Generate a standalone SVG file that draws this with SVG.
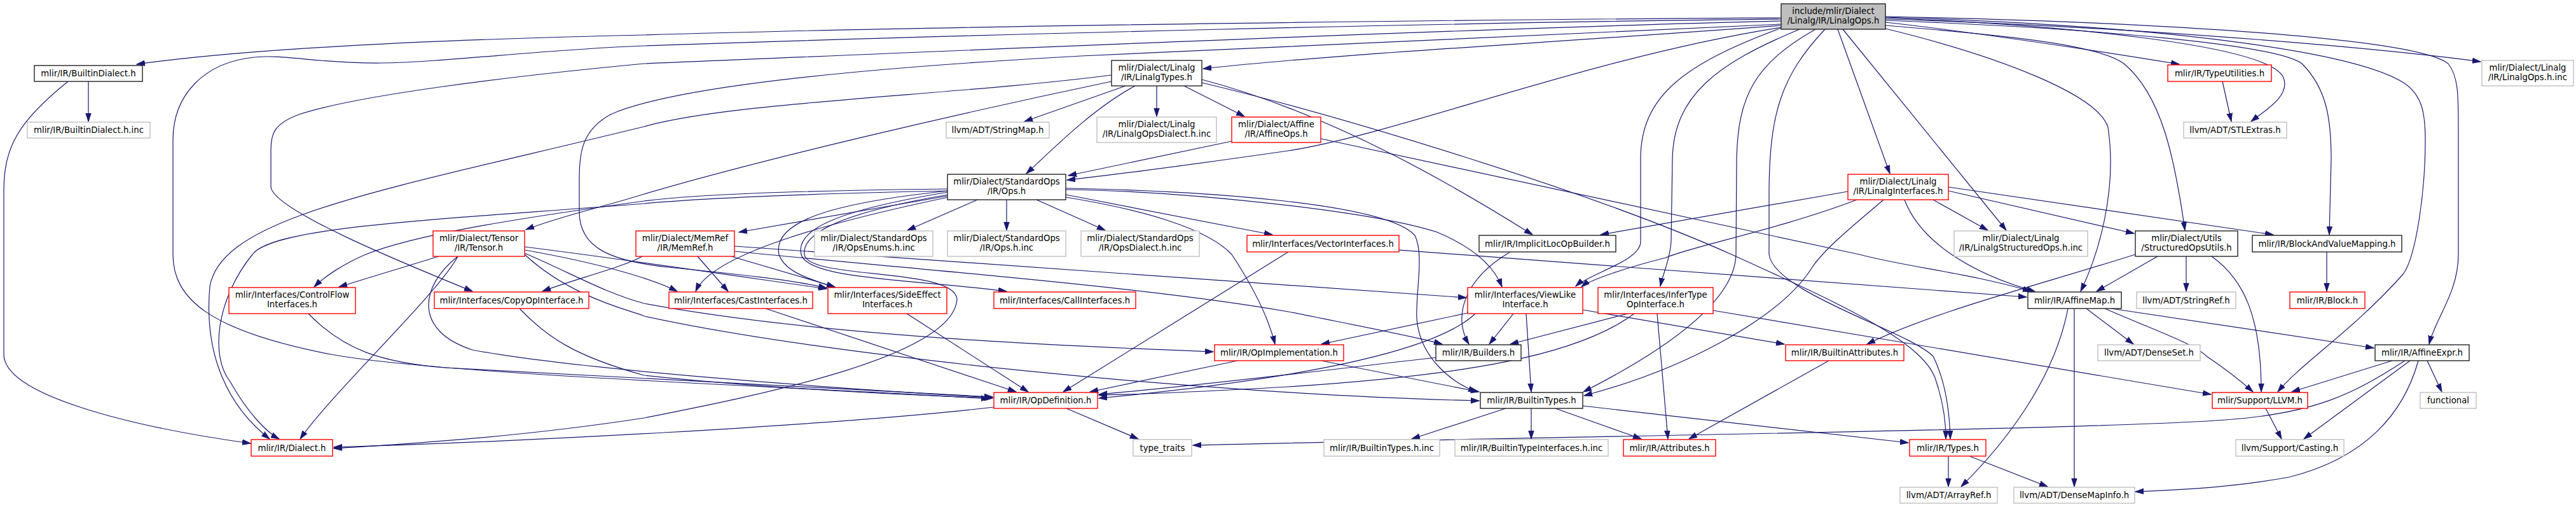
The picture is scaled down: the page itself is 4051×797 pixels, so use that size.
<svg xmlns="http://www.w3.org/2000/svg" width="4051" height="797" viewBox="0 0 4051 797">
<defs>
<marker id="a" markerUnits="userSpaceOnUse" markerWidth="14" markerHeight="10" refX="13" refY="5" orient="auto">
<path d="M0,0.8 L13,5 L0,9.2 z" fill="#191970" stroke="#191970" stroke-width="1"/>
</marker>
<style>
.n rect{fill:#fff;stroke-width:1.4}
.k rect{stroke:#222}
.r rect{stroke:#f00}
.g rect{stroke:#bfbfbf}
text{font-family:"DejaVu Sans","Liberation Sans",sans-serif;font-size:13.3px;text-anchor:middle;fill:#000}
.e path{fill:none;stroke:#191970;stroke-width:1.2;marker-end:url(#a)}
</style>
</defs>
<rect width="4051" height="797" fill="#fff"/>
<g id="edges" class="e">
<path d="M2801,28 C2400,30 1500,40 1013,55 C700,62 400,75 215,101"/>
<path d="M2801,30 C2300,35 1500,55 1013,72 C850,78 700,98 600,99 C500,100 450,85 400,90 C320,98 272,150 272,220 L272,400 C272,470 330,520 520,557 C700,590 1300,610 1556,627"/>
<path d="M2801,33 C2300,45 1500,80 1013,100 C800,120 560,150 470,180 C430,195 426,210 426,240 L426,293 C426,330 650,420 743,458"/>
<path d="M2801,38 C2400,55 2000,75 1700,88 C1300,110 1050,140 960,180 C915,205 911,240 911,280 L911,333 C911,390 960,410 1050,420 C1150,430 1250,440 1300,453"/>
<path d="M2801,40 C2400,70 2100,85 1892,108"/>
<path d="M2801,43 C2500,90 2200,210 2026,237 C1900,255 1750,275 1678,283"/>
<path d="M2801,44 C2650,100 2580,150 2580,250 L2580,380 C2580,410 2500,430 2478,450"/>
<path d="M2830,46 C2700,100 2632,150 2630,250 L2628,380 C2626,410 2615,430 2611,450"/>
<path d="M2855,46 C2760,100 2733,150 2731,250 L2730,400 C2728,480 2600,560 2490,616"/>
<path d="M2870,46 C2800,120 2783,180 2782,300 L2782,400 C2790,460 3000,520 3040,560 C3060,600 3066,650 3067,690"/>
<path d="M2890,46 L2972,273"/>
<path d="M2898,46 L3155,362"/>
<path d="M2965,35 C3100,50 3300,80 3427,101"/>
<path d="M2965,28 C3250,40 3560,70 3590,120 C3605,150 3560,175 3540,191"/>
<path d="M2965,30 C3300,40 3700,70 3901,97"/>
<path d="M2965,26 C3400,35 3800,60 3850,100 C3866,120 3866,150 3866,200 L3866,400 C3866,460 3830,500 3820,541"/>
<path d="M2965,27 C3400,40 3700,80 3780,130 C3810,150 3814,180 3814,220 C3814,300 3800,400 3780,430 C3700,520 3620,570 3582,616"/>
<path d="M2965,32 C3300,45 3580,70 3620,100 C3660,140 3666,190 3666,250 L3663,369"/>
<path d="M2965,40 C3150,55 3300,70 3340,100 C3400,150 3420,250 3436,362"/>
<path d="M2965,45 C3150,90 3300,150 3315,200 C3330,300 3300,400 3272,458"/>
<path d="M139,128 L139,191"/>
<path d="M107,128 C30,190 6,230 6,300 L6,557 C6,620 200,670 394,697"/>
<path d="M1770,135 L1611,191"/>
<path d="M1819,135 L1819,183"/>
<path d="M1862,135 L1957,183"/>
<path d="M1785,135 C1720,170 1660,230 1614,273"/>
<path d="M1748,128 C1500,180 1200,250 1013,305 C950,325 880,340 827,361"/>
<path d="M1748,118 C1500,150 1150,160 1013,199 C600,300 350,340 330,450 C320,560 360,640 424,690"/>
<path d="M1890,125 C2100,180 2300,300 2410,369"/>
<path d="M1890,130 C2100,180 2500,300 2723,400 C2900,480 3030,540 3045,600 C3055,630 3060,660 3060,690"/>
<path d="M1937,222 L1680,276"/>
<path d="M2077,218 L2924,400 C3000,420 3100,430 3194,458"/>
<path d="M1490,308 L1162,365"/>
<path d="M1537,314 L1427,362"/>
<path d="M1583,314 L1583,362"/>
<path d="M1630,314 L1738,362"/>
<path d="M1676,306 L2001,369"/>
<path d="M1490,297 C1250,300 1100,305 1013,316 C800,345 650,370 575,400 C540,415 510,435 494,451"/>
<path d="M1490,300 C1250,305 1100,312 1013,320 C700,345 430,355 397,400 C340,470 330,560 362,600 C390,650 420,680 439,690"/>
<path d="M1491,306 C1350,330 1260,360 1265,400 C1270,440 1500,420 1505,470 C1500,560 1200,620 1013,657 C800,690 600,700 525,705"/>
<path d="M1491,310 C1300,350 1120,400 1094,458"/>
<path d="M1491,300 C1300,320 1215,350 1225,400 C1235,430 1280,440 1313,452"/>
<path d="M1491,302 C1320,330 1250,360 1260,400 C1270,440 1450,440 1583,458"/>
<path d="M1676,310 C1800,330 1900,360 1937,400 C1970,450 1995,500 2005,541"/>
<path d="M1676,298 C1850,300 2150,330 2260,365 C2320,390 2350,420 2362,451"/>
<path d="M1676,296 C1900,300 2180,320 2225,370 C2240,400 2226,460 2228,500 C2232,560 2280,600 2322,616"/>
<path d="M690,403 L533,451"/>
<path d="M720,403 C690,460 520,620 472,690"/>
<path d="M825,393 C950,415 1030,440 1065,458"/>
<path d="M825,388 C1000,410 1200,440 1300,454"/>
<path d="M825,398 C900,430 950,460 1013,477 C1300,530 1700,545 1908,553"/>
<path d="M720,403 C660,450 650,520 743,550 C900,580 1300,610 1561,625"/>
<path d="M825,400 C900,470 1000,490 1013,497 C1300,560 1900,620 2326,630"/>
<path d="M1010,403 C980,420 900,440 853,458"/>
<path d="M1097,403 L1145,458"/>
<path d="M1150,403 L1313,451"/>
<path d="M1155,387 C1500,410 1900,440 2306,468"/>
<path d="M1155,395 C1400,420 1800,450 2026,490 C2150,515 2230,530 2268,541"/>
<path d="M817,485 C860,530 904,560 1013,590 C1200,610 1400,620 1561,626"/>
<path d="M485,493 C540,550 600,570 700,578 C1000,595 1300,610 1561,624"/>
<path d="M1204,485 L1598,616"/>
<path d="M1426,493 L1617,616"/>
<path d="M2026,396 L1672,616"/>
<path d="M2200,393 C2600,420 3000,450 3187,467"/>
<path d="M2375,396 C2300,440 2285,500 2310,541"/>
<path d="M2906,301 L2517,369"/>
<path d="M2920,314 C2800,360 2650,390 2620,405 C2560,420 2500,440 2487,451"/>
<path d="M2962,314 C2920,350 2870,390 2850,420 C2800,500 2650,580 2491,622"/>
<path d="M2995,314 C3020,380 3100,430 3200,458"/>
<path d="M3040,314 L3126,362"/>
<path d="M3064,300 L3356,367"/>
<path d="M3064,294 L3575,369"/>
<path d="M3393,403 L3297,458"/>
<path d="M3438,403 L3438,458"/>
<path d="M3478,403 C3530,440 3556,500 3556,616"/>
<path d="M3358,400 C3200,450 3040,490 2936,541"/>
<path d="M3659,396 L3659,458"/>
<path d="M3281,485 L3355,541"/>
<path d="M3310,485 C3390,520 3450,540 3470,560 C3500,580 3525,600 3543,616"/>
<path d="M3320,485 L3733,547"/>
<path d="M3252,485 C3230,600 3150,700 3084,765"/>
<path d="M3262,485 L3262,765"/>
<path d="M2560,493 L2375,541"/>
<path d="M2606,493 L2623,690"/>
<path d="M2570,493 C2480,560 2300,590 2026,608 C1900,615 1800,620 1728,621"/>
<path d="M2694,488 L3477,620"/>
<path d="M2308,492 L2078,541"/>
<path d="M2380,493 L2342,541"/>
<path d="M2400,493 L2408,616"/>
<path d="M2489,487 L2806,541"/>
<path d="M2320,493 C2250,560 2000,600 1728,626"/>
<path d="M1946,567 L1714,616"/>
<path d="M2078,567 L2326,616"/>
<path d="M2258,562 C2100,580 1900,605 1728,620"/>
<path d="M1563,640 C1300,670 800,695 525,703"/>
<path d="M1677,642 L1790,690"/>
<path d="M2368,642 L2220,690"/>
<path d="M2408,642 L2408,690"/>
<path d="M2446,642 L2581,690"/>
<path d="M2489,638 L3001,696"/>
<path d="M2876,567 L2656,690"/>
<path d="M3064,717 L3064,765"/>
<path d="M3097,717 L3220,765"/>
<path d="M3762,567 L3604,616"/>
<path d="M3790,567 L3623,690"/>
<path d="M3817,567 L3840,616"/>
<path d="M3803,567 C3780,650 3720,720 3600,750 C3500,768 3420,770 3358,773"/>
<path d="M3782,567 C3700,620 3640,650 3500,660 C3300,675 2500,685 1876,700"/>
<path d="M3563,642 L3588,690"/>
<path d="M3495,128 L3509,191"/>
</g>
<g id="n_root" class="n k"><rect x="2801" y="6" width="164" height="40" style="fill:#bfbfbf"/><text x="2883" y="22">include/mlir/Dialect</text><text x="2883" y="37">/Linalg/IR/LinalgOps.h</text></g>
<g id="n_builtindialect" class="n k"><rect x="54" y="103" width="170" height="25"/><text x="139" y="120">mlir/IR/BuiltinDialect.h</text></g>
<g id="n_builtindialect_inc" class="n g"><rect x="43" y="192" width="193" height="25"/><text x="139.5" y="209">mlir/IR/BuiltinDialect.h.inc</text></g>
<g id="n_linalgtypes" class="n k"><rect x="1748" y="95" width="142" height="40"/><text x="1819" y="111">mlir/Dialect/Linalg</text><text x="1819" y="126">/IR/LinalgTypes.h</text></g>
<g id="n_stringmap" class="n g"><rect x="1488" y="192" width="162" height="25"/><text x="1569" y="209">llvm/ADT/StringMap.h</text></g>
<g id="n_linalgopsdialect_inc" class="n g"><rect x="1725" y="184" width="188" height="40"/><text x="1819" y="200">mlir/Dialect/Linalg</text><text x="1819" y="215">/IR/LinalgOpsDialect.h.inc</text></g>
<g id="n_affineops" class="n r"><rect x="1937" y="184" width="140" height="40"/><text x="2007" y="200">mlir/Dialect/Affine</text><text x="2007" y="215">/IR/AffineOps.h</text></g>
<g id="n_stdops" class="n k"><rect x="1490" y="274" width="186" height="40"/><text x="1583" y="290">mlir/Dialect/StandardOps</text><text x="1583" y="305">/IR/Ops.h</text></g>
<g id="n_tensor" class="n r"><rect x="681" y="363" width="144" height="40"/><text x="753" y="379">mlir/Dialect/Tensor</text><text x="753" y="394">/IR/Tensor.h</text></g>
<g id="n_memref" class="n r"><rect x="1000" y="363" width="155" height="40"/><text x="1077.5" y="379">mlir/Dialect/MemRef</text><text x="1077.5" y="394">/IR/MemRef.h</text></g>
<g id="n_opsenums" class="n g"><rect x="1281" y="363" width="186" height="40"/><text x="1374" y="379">mlir/Dialect/StandardOps</text><text x="1374" y="394">/IR/OpsEnums.h.inc</text></g>
<g id="n_ops_inc" class="n g"><rect x="1490" y="363" width="186" height="40"/><text x="1583" y="379">mlir/Dialect/StandardOps</text><text x="1583" y="394">/IR/Ops.h.inc</text></g>
<g id="n_opsdialect" class="n g"><rect x="1700" y="363" width="186" height="40"/><text x="1793" y="379">mlir/Dialect/StandardOps</text><text x="1793" y="394">/IR/OpsDialect.h.inc</text></g>
<g id="n_vectorinterfaces" class="n r"><rect x="1961" y="370" width="239" height="26"/><text x="2080.5" y="387.5">mlir/Interfaces/VectorInterfaces.h</text></g>
<g id="n_implicitloc" class="n k"><rect x="2326" y="370" width="215" height="26"/><text x="2433.5" y="387.5">mlir/IR/ImplicitLocOpBuilder.h</text></g>
<g id="n_linalginterfaces" class="n r"><rect x="2906" y="274" width="158" height="40"/><text x="2985" y="290">mlir/Dialect/Linalg</text><text x="2985" y="305">/IR/LinalgInterfaces.h</text></g>
<g id="n_typeutilities" class="n r"><rect x="3409" y="102" width="163" height="26"/><text x="3490.5" y="119.5">mlir/IR/TypeUtilities.h</text></g>
<g id="n_stlextras" class="n g"><rect x="3434" y="192" width="162" height="25"/><text x="3515" y="209">llvm/ADT/STLExtras.h</text></g>
<g id="n_linalgops_inc" class="n g"><rect x="3903" y="95" width="144" height="40"/><text x="3975" y="111">mlir/Dialect/Linalg</text><text x="3975" y="126">/IR/LinalgOps.h.inc</text></g>
<g id="n_structuredops_inc" class="n g"><rect x="3073" y="363" width="210" height="40"/><text x="3178" y="379">mlir/Dialect/Linalg</text><text x="3178" y="394">/IR/LinalgStructuredOps.h.inc</text></g>
<g id="n_structuredopsutils" class="n k"><rect x="3358" y="363" width="161" height="40"/><text x="3438.5" y="379">mlir/Dialect/Utils</text><text x="3438.5" y="394">/StructuredOpsUtils.h</text></g>
<g id="n_blockandvaluemapping" class="n k"><rect x="3542" y="370" width="235" height="26"/><text x="3659.5" y="387.5">mlir/IR/BlockAndValueMapping.h</text></g>
<g id="n_controlflow" class="n r"><rect x="360" y="452" width="199" height="41"/><text x="459.5" y="468">mlir/Interfaces/ControlFlow</text><text x="459.5" y="483">Interfaces.h</text></g>
<g id="n_copyop" class="n r"><rect x="683" y="459" width="243" height="26"/><text x="804.5" y="476.5">mlir/Interfaces/CopyOpInterface.h</text></g>
<g id="n_dialect" class="n r"><rect x="395" y="691" width="128" height="26"/><text x="459" y="708.5">mlir/IR/Dialect.h</text></g>
<g id="n_cast" class="n r"><rect x="1052" y="459" width="226" height="26"/><text x="1165" y="476.5">mlir/Interfaces/CastInterfaces.h</text></g>
<g id="n_sideeffect" class="n r"><rect x="1302" y="452" width="187" height="41"/><text x="1395.5" y="468">mlir/Interfaces/SideEffect</text><text x="1395.5" y="483">Interfaces.h</text></g>
<g id="n_call" class="n r"><rect x="1563" y="459" width="223" height="26"/><text x="1674.5" y="476.5">mlir/Interfaces/CallInterfaces.h</text></g>
<g id="n_opimpl" class="n r"><rect x="1910" y="542" width="203" height="25"/><text x="2011.5" y="559">mlir/IR/OpImplementation.h</text></g>
<g id="n_opdef" class="n r"><rect x="1563" y="617" width="163" height="25"/><text x="1644.5" y="634">mlir/IR/OpDefinition.h</text></g>
<g id="n_type_traits" class="n g"><rect x="1782" y="691" width="92" height="26"/><text x="1828" y="708.5">type_traits</text></g>
<g id="n_viewlike" class="n r"><rect x="2308" y="452" width="181" height="41"/><text x="2398.5" y="468">mlir/Interfaces/ViewLike</text><text x="2398.5" y="483">Interface.h</text></g>
<g id="n_infertype" class="n r"><rect x="2513" y="452" width="181" height="41"/><text x="2603.5" y="468">mlir/Interfaces/InferType</text><text x="2603.5" y="483">OpInterface.h</text></g>
<g id="n_builders" class="n k"><rect x="2258" y="542" width="134" height="25"/><text x="2325" y="559">mlir/IR/Builders.h</text></g>
<g id="n_builtinattributes" class="n r"><rect x="2808" y="542" width="186" height="25"/><text x="2901" y="559">mlir/IR/BuiltinAttributes.h</text></g>
<g id="n_builtintypes" class="n k"><rect x="2328" y="617" width="161" height="25"/><text x="2408.5" y="634">mlir/IR/BuiltinTypes.h</text></g>
<g id="n_builtintypes_inc" class="n g"><rect x="2082" y="691" width="182" height="26"/><text x="2173" y="708.5">mlir/IR/BuiltinTypes.h.inc</text></g>
<g id="n_builtintypeinterfaces_inc" class="n g"><rect x="2288" y="691" width="241" height="26"/><text x="2408.5" y="708.5">mlir/IR/BuiltinTypeInterfaces.h.inc</text></g>
<g id="n_attributes" class="n r"><rect x="2553" y="691" width="145" height="26"/><text x="2625.5" y="708.5">mlir/IR/Attributes.h</text></g>
<g id="n_types" class="n r"><rect x="3003" y="691" width="120" height="26"/><text x="3063" y="708.5">mlir/IR/Types.h</text></g>
<g id="n_arrayref" class="n g"><rect x="2988" y="766" width="153" height="25"/><text x="3064.5" y="783">llvm/ADT/ArrayRef.h</text></g>
<g id="n_affinemap" class="n k"><rect x="3189" y="459" width="147" height="26"/><text x="3262.5" y="476.5">mlir/IR/AffineMap.h</text></g>
<g id="n_stringref" class="n g"><rect x="3360" y="459" width="156" height="26"/><text x="3438" y="476.5">llvm/ADT/StringRef.h</text></g>
<g id="n_block" class="n r"><rect x="3601" y="459" width="118" height="26"/><text x="3660" y="476.5">mlir/IR/Block.h</text></g>
<g id="n_denseset" class="n g"><rect x="3299" y="542" width="161" height="25"/><text x="3379.5" y="559">llvm/ADT/DenseSet.h</text></g>
<g id="n_affineexpr" class="n k"><rect x="3735" y="542" width="148" height="25"/><text x="3809" y="559">mlir/IR/AffineExpr.h</text></g>
<g id="n_llvm" class="n r"><rect x="3479" y="617" width="150" height="25"/><text x="3554" y="634">mlir/Support/LLVM.h</text></g>
<g id="n_functional" class="n g"><rect x="3806" y="617" width="88" height="25"/><text x="3850" y="634">functional</text></g>
<g id="n_casting" class="n g"><rect x="3516" y="691" width="170" height="26"/><text x="3601" y="708.5">llvm/Support/Casting.h</text></g>
<g id="n_densemapinfo" class="n g"><rect x="3167" y="766" width="190" height="25"/><text x="3262" y="783">llvm/ADT/DenseMapInfo.h</text></g>
</svg>
